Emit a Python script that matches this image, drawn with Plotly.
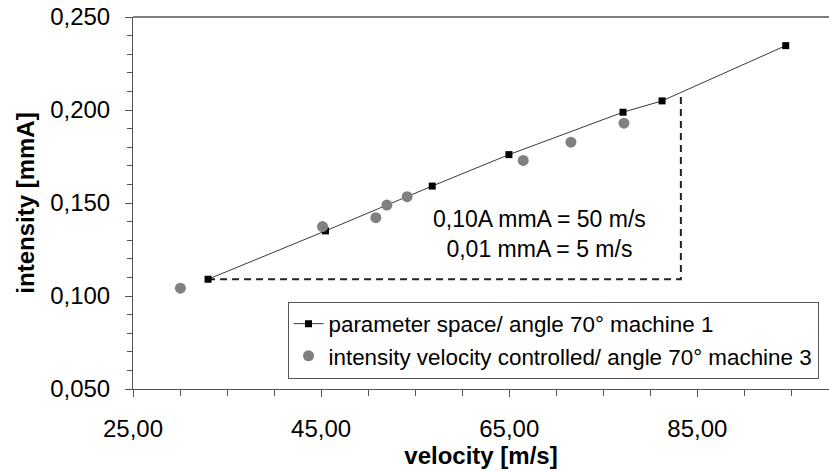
import plotly.graph_objects as go

# Series 1: parameter space / angle 70° machine 1
param_velocity = [32.98, 45.47, 56.81, 64.97, 77.10, 81.25, 94.40]
param_intensity = [0.1090, 0.1350, 0.1591, 0.1760, 0.1988, 0.2049, 0.2346]

# Series 2: intensity velocity controlled / angle 70° machine 3
ctrl_velocity = [30.04, 45.15, 50.82, 51.99, 54.15, 66.49, 71.56, 77.20]
ctrl_intensity = [0.1042, 0.1373, 0.1421, 0.1489, 0.1534, 0.1729, 0.1827, 0.1929]

# Guide (slope triangle)
guide_velocity = [32.98, 83.25, 83.25]
guide_intensity = [0.1090, 0.1090, 0.2095]

series_names = ["parameter space/ angle 70° machine 1",
                "intensity velocity controlled/ angle 70° machine 3"]
note_text = "0,10A mmA = 50 m/s<br>0,01 mmA = 5 m/s"
note_pos = (68.2, 0.1335)

FONT = "Liberation Sans, Arial, sans-serif"

fig = go.Figure()
fig.add_trace(go.Scatter(
    x=guide_velocity, y=guide_intensity, mode="lines",
    line=dict(color="#222222", width=2, dash="7px,5px"),
    showlegend=False, hoverinfo="skip"))
fig.add_trace(go.Scatter(
    x=param_velocity, y=param_intensity, mode="lines+markers",
    name=series_names[0],
    line=dict(color="#3a3a3a", width=1),
    marker=dict(symbol="square", size=7, color="#000000")))
fig.add_trace(go.Scatter(
    x=ctrl_velocity, y=ctrl_intensity, mode="markers",
    name=series_names[1],
    marker=dict(symbol="circle", size=11, color="#808080")))

fig.add_annotation(x=note_pos[0], y=note_pos[1], text=note_text,
                   showarrow=False, font=dict(size=23, color="#000000", family=FONT),
                   align="center")

fig.update_layout(
    width=829, height=472,
    margin=dict(l=133, r=0, t=17, b=83),
    paper_bgcolor="white", plot_bgcolor="white",
    separators=",.",
    font=dict(family=FONT, size=24, color="#000000"),
    legend=dict(x=0.222, y=0.235, xanchor="left", yanchor="top",
                bordercolor="#555555", borderwidth=1, bgcolor="white",
                font=dict(size=22.4, family=FONT), itemwidth=30,
                tracegroupgap=0),
    xaxis=dict(range=[25, 99], dtick=20, tick0=25, tickformat=".2f",
               showgrid=False, zeroline=False, automargin=False,
               showline=True, linecolor="#555555", linewidth=1,
               ticks="outside", ticklen=7, tickcolor="#555555",
               ticklabelstandoff=11,
               minor=dict(dtick=5, tick0=25, ticks="outside", ticklen=6, tickcolor="#555555"),
               title=dict(text="<b>velocity [m/s]</b>", font=dict(size=24), standoff=4),
               tickfont=dict(size=24)),
    yaxis=dict(range=[0.05, 0.25], dtick=0.05, tick0=0.05, tickformat=".3f",
               showgrid=False, zeroline=False, automargin=False,
               showline=True, linecolor="#555555", linewidth=1, mirror=False,
               ticks="outside", ticklen=7, tickcolor="#555555",
               ticklabelstandoff=10,
               minor=dict(dtick=0.01, ticks="outside", ticklen=5, tickcolor="#555555"),
               title=dict(text="<b>intensity [mmA]</b>", font=dict(size=24), standoff=8),
               tickfont=dict(size=24)),
)

# top border line of plot area
fig.add_shape(type="line", xref="paper", yref="paper", x0=0, x1=1, y0=1, y1=1,
              line=dict(color="#555555", width=1.5))

fig.write_html("out.html", config={"displayModeBar": False},
               post_script="document.body.style.margin='0px';document.body.style.padding='0px';")
